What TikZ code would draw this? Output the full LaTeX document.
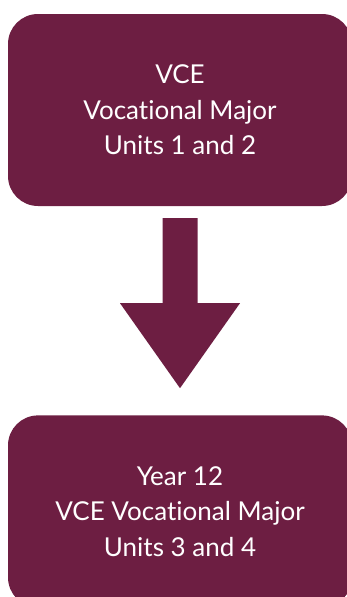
\documentclass[tikz,border=0pt]{standalone}
\usepackage{fontspec}
\setmainfont{Lato}[Ligatures={NoCommon}]
\usepackage{tikz}
\usetikzlibrary{positioning}

\definecolor{vcemaroon}{HTML}{6D1E42}

\tikzset{
    stagebox/.style={fill=vcemaroon, text=white, rounded corners=30pt, minimum width=344pt, minimum height=192pt, align=center, font=\fontsize{26}{35.5}\selectfont, inner sep=0pt}
}

\begin{document}
\begin{tikzpicture}[x=1pt, y=1pt]
    \useasboundingbox (0,0) rectangle (346,-597);

    \node [stagebox] (top) at (180,-110) {VCE\\Vocational Major\\Units 1 and 2};
    \node [stagebox, below=209pt of top] (bottom) {Year 12\\VCE Vocational Major\\Units 3 and 4};

    % block arrow between the two boxes
    \coordinate (s) at ([yshift=-12pt]top.south);
    \coordinate (t) at ([yshift=27pt]bottom.north);
    \fill[vcemaroon] ([xshift=-17.5pt]s) -- ([xshift=17.5pt]s) -- ([xshift=17.5pt,yshift=-85pt]s) -- ([xshift=60pt,yshift=-85pt]s) -- (t) -- ([xshift=-60pt,yshift=-85pt]s) -- ([xshift=-17.5pt,yshift=-85pt]s) -- cycle;

\end{tikzpicture}
\end{document}
